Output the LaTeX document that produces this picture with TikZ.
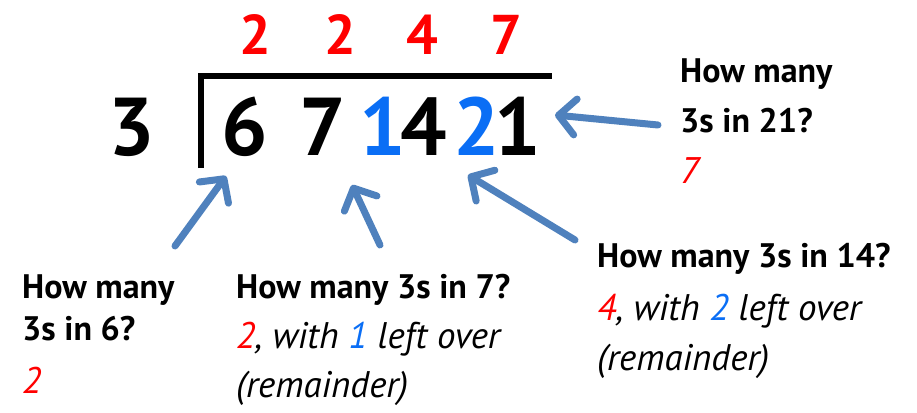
\documentclass[tikz,border=0pt]{standalone}
\usepackage{fontspec}
\setmainfont{PT Sans}
\usetikzlibrary{arrows.meta}
\definecolor{divred}{RGB}{255,0,0}
\definecolor{divblue}{RGB}{10,110,245}
\definecolor{arrowblue}{RGB}{79,129,189}
\tikzset{
  big/.style={font=\bfseries\fontsize{82}{82}\selectfont, anchor=base, inner sep=0pt},
  quot/.style={font=\bfseries\fontsize{56}{56}\selectfont, anchor=base, inner sep=0pt, text=divred},
  ask/.style={font=\bfseries\fontsize{34}{40}\selectfont, anchor=base west, inner sep=0pt},
  ans/.style={font=\itshape\fontsize{37}{40}\selectfont, anchor=base west, inner sep=0pt},
  arr/.style={arrowblue, line width=7pt, line cap=round, -{Straight Barb[length=17pt,width=36pt,round]}}
}
\begin{document}
\begin{tikzpicture}[x=1pt, y=-1pt]
    \useasboundingbox (0,0) rectangle (917,412);
    \node[quot] (q1) at (255,55) {2};
    \node[quot] (q2) at (340,55) {2};
    \node[quot] (q3) at (422,55) {4};
    \node[quot] (q4) at (506,55) {7};
    \node[big] (d3) at (132,155) {3};
    \node[big] (d6) at (245,155) {6};
    \node[big] (d7) at (323,155) {7};
    \node[big, anchor=base east, text=divblue] (c1) at (406,155) {1};
    \node[big, anchor=base west] (d4) at (400,155) {4};
    \node[big, anchor=base east, text=divblue] (c2) at (500,155) {2};
    \node[big, anchor=base west] (d1) at (494,155) {1};
    \draw[line width=6pt] (201,168) -- (201,76) -- (552,76);
    \node[ask] (ask6) at (22,298) {How many};
    \node[ask] (ask6b) at (22,340) {3s in 6?};
    \node[ans, text=divred] (ans6) at (22,393) {2};
    \node[ask] (ask7) at (236,298) {How many 3s in 7?};
    \node[ans] (ans7) at (236,348) {\textcolor{divred}{2}, with \textcolor{divblue}{1} left over};
    \node[ans] (rem7) at (236,397) {(remainder)};
    \node[ask] (ask14) at (597,267) {How many 3s in 14?};
    \node[ans] (ans14) at (597,320) {\textcolor{divred}{4}, with \textcolor{divblue}{2} left over};
    \node[ans] (rem14) at (597,370) {(remainder)};
    \node[ask] (ask21) at (680,82) {How many};
    \node[ask] (ask21b) at (680,132) {3s in 21?};
    \node[ans, text=divred] (ans21) at (680,183) {7};
    \coordinate (s6) at (175,246);
    \coordinate (t6) at (226,176);
    \coordinate (s7) at (380,245);
    \coordinate (t7) at (352,185);
    \coordinate (s14) at (575,240);
    \coordinate (t14) at (468,175);
    \coordinate (s21) at (658,125);
    \coordinate (t21) at (555,115);
    \draw[arr] (s6) -- (t6);
    \draw[arr] (s7) -- (t7);
    \draw[arr] (s14) -- (t14);
    \draw[arr] (s21) -- (t21);
\end{tikzpicture}
\end{document}
